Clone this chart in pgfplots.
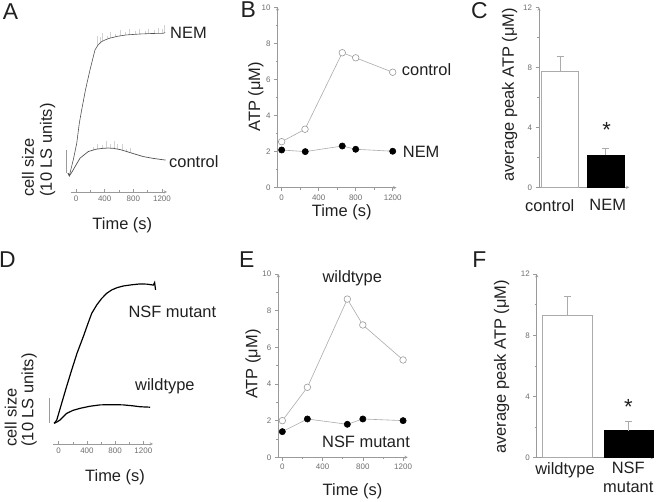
\documentclass[border=0pt]{standalone}
\usepackage{pgfplots}
\pgfplotsset{compat=1.18}
\usepackage{fontspec}
\setmainfont{Liberation Sans}
\newcommand\lab{\fontsize{16.5}{19}\selectfont}
\newcommand\tck{\fontsize{8}{9}\selectfont}
\newcommand\letr{\fontsize{23}{26}\selectfont}
\definecolor{axgray}{HTML}{9A9A9A}
\definecolor{tkgray}{HTML}{6E6E6E}
\definecolor{lngray}{HTML}{ABABAB}
\definecolor{spgray}{HTML}{D2D2D2}
\definecolor{trgray}{HTML}{505050}
\definecolor{txt}{HTML}{202020}
\pgfplotsset{
  base/.style={scale only axis, anchor=south west, clip=false,
    /pgf/number format/assume math mode=true,
    /pgf/number format/set thousands separator={},
    tick label style={font=\tck, text=tkgray},
    axis line style={-, axgray, line width=0.5pt},
    tick style={axgray, line width=0.45pt}},
  trace/.style={base, axis x line=bottom, axis y line=none, ytick=\empty,
    xtick={0,400,800,1200}, minor xtick={200,600,1000},
    tick align=inside, major tick length=2.5bp, minor tick length=1.5bp},
  atp/.style={base, axis lines=left, ymin=0, ymax=10,
    ytick={0,2,...,10}, minor ytick={1,3,...,9},
    xtick={0,400,800,1200}, minor xtick={200,600,1000},
    tick align=outside, major tick length=3.5bp, minor tick length=2bp},
  bars/.style={base, axis lines=left, ymin=0, ymax=12,
    ytick={0,4,8,12}, minor ytick={2,6,10},
    tick align=outside, major tick length=3.5bp, minor tick length=2bp,
    x tick style={draw=none},
    xticklabel style={font=\lab, text=txt, anchor=north, inner sep=0pt, align=center}},
  openm/.style={lngray, line width=0.6pt, mark=*, mark size=3.3bp,
    mark options={fill=white, draw=axgray, line width=0.6pt}},
  fillm/.style={lngray, line width=0.6pt, mark=*, mark size=3.1bp,
    mark options={fill=black, draw=black}},
  spk/.style={spgray, line width=0.25pt, -, forget plot,
    quiver={u=0, v=\thisrow{e}}},
}
\begin{document}
\begin{tikzpicture}[x=1bp,y=1bp]
\path[use as bounding box] (0,0) rectangle (660,502);

% ---------------- A ----------------
\begin{axis}[trace, at={(71bp,310bp)}, width=96bp, height=165.6bp,
  xmin=-70, xmax=1270, ymin=-7, ymax=65]
\addplot[spk] table {
t y e
290 56.3 4.5
335 57.9 2.5
370 58.5 3.5
430 59.4 1.5
475 59.9 2.5
540 60.3 1.5
610 60.8 2.5
690 61.2 1.2
735 61.3 2.5
820 61.5 1.5
880 61.6 2.2
965 61.7 1.2
1010 61.8 2
1090 61.9 1.5
1140 61.95 2.5
1200 62.0 2
1235 62.2 3.5
};
\addplot[spk] table {
t y e
240 11.2 1.2
300 11.7 2.2
365 12.0 1.5
420 12.1 3
470 12.1 1.8
530 12.0 3
575 11.8 2
640 11.3 2.5
700 10.7 1.2
760 10.2 1.8
};
\addplot[trgray, line width=0.6pt] coordinates {
(-112,1.2) (-93,0) (-70,3) (-38,7.0) (10,14.2) (46,22.9) (79,28.7) (132,37.4)
(195,46.1) (265,54.8) (310,57.0) (358,58.4) (420,59.3) (474,59.9) (580,60.7)
(707,61.3) (900,61.7) (1050,61.9) (1213,62.0) (1245,62.3)};
\addplot[trgray, line width=0.7pt] coordinates {
(-112,1.2) (-93,0) (-60,1.5) (-14,4.0) (56,7.7) (172,10.6) (280,11.6) (381,12.0)
(450,12.1) (520,12.0) (620,11.4) (707,10.6) (820,9.5) (939,8.4) (1080,7.6)
(1218,7.0) (1250,6.9)};
\addplot[axgray, line width=0.6pt] coordinates {(-140,1.4) (-140,11.4)};
\end{axis}

% ---------------- B ----------------
\begin{axis}[atp, at={(277.5bp,314.3bp)}, width=118.9bp, height=180.4bp,
  xmin=-45, xmax=1240]
\addplot[openm] coordinates {(0,2.55) (252,3.24) (655,7.48) (800,7.2) (1200,6.4)};
\addplot[fillm] coordinates {(0,2.09) (255,2.0) (655,2.31) (800,2.13) (1200,2.02)};
\end{axis}

% ---------------- C ----------------
\begin{axis}[bars, at={(539bp,314.7bp)}, width=90.3bp, height=180bp,
  xmin=0, xmax=90.3, xtick={10.7,68.7}, xticklabels={control,NEM},
  xticklabel style={yshift=-8.7bp}]
\addplot[ybar, bar width=37bp, bar shift=0pt, fill=white, draw=lngray, line width=0.6pt,
  error bars/.cd, y dir=plus, y explicit,
  error bar style={lngray, line width=0.6pt},
  error mark options={rotate=90, mark size=3.5bp, lngray, line width=0.6pt}]
  coordinates {(21,7.75) +- (0,0.95)};
\addplot[ybar, bar width=37bp, bar shift=0pt, fill=black, draw=black, line width=0.6pt,
  error bars/.cd, y dir=plus, y explicit,
  error bar style={lngray, line width=0.6pt},
  error mark options={rotate=90, mark size=3.5bp, lngray, line width=0.6pt}]
  coordinates {(66.3,2.15) +- (0,0.45)};
\end{axis}

% ---------------- D ----------------
\begin{axis}[trace, at={(53bp,58bp)}, width=100bp, height=170.2bp,
  xmin=-81, xmax=1337, ymin=-9, ymax=65]
\addplot[black, line width=1.2pt] coordinates {
(-62,0) (-28,1.4) (40,8.5) (110,15.8) (184,23.2) (260,30.5) (349,37.7) (410,43.0)
(468,47.8) (540,51.5) (610,54.3) (680,56.5) (752,58.0) (830,59.0) (916,59.7)
(1030,60.2) (1153,60.6) (1250,60.5) (1342,60.1) (1360,61.2) (1373,58.0)};
\addplot[black, line width=1.2pt] coordinates {
(-67,0) (-30,0.5) (18,1.4) (113,4.3) (200,5.6) (302,6.5) (440,7.4) (586,8.0)
(750,8.1) (916,8.0) (1050,7.6) (1153,7.2) (1295,7.0)};
\addplot[axgray, line width=0.6pt] coordinates {(-138,0.3) (-138,10.9)};
\end{axis}

% ---------------- E ----------------
\begin{axis}[atp, at={(278.3bp,44.7bp)}, width=129.4bp, height=183.3bp,
  xmin=-40, xmax=1246]
\addplot[openm] coordinates {(0,2.0) (249,3.82) (646,8.63) (800,7.22) (1200,5.31)};
\addplot[fillm] coordinates {(0,1.4) (249,2.09) (646,1.8) (800,2.09) (1200,2.0)};
\end{axis}

% ---------------- F ----------------
\begin{axis}[bars, at={(536.7bp,44.3bp)}, width=117.3bp, height=183.6bp,
  xmin=0, xmax=117.3, xtick={28.3,91.6}, xticklabels={wildtype,{NSF\\mutant}},
  xticklabel style={yshift=-1bp}]
\addplot[ybar, bar width=50bp, bar shift=0pt, fill=white, draw=lngray, line width=0.6pt,
  error bars/.cd, y dir=plus, y explicit,
  error bar style={lngray, line width=0.6pt},
  error mark options={rotate=90, mark size=3.5bp, lngray, line width=0.6pt}]
  coordinates {(30.6,9.33) +- (0,1.19)};
\addplot[ybar, bar width=49.3bp, bar shift=0pt, fill=black, draw=black, line width=0.6pt,
  error bars/.cd, y dir=plus, y explicit,
  error bar style={lngray, line width=0.6pt},
  error mark options={rotate=90, mark size=3.5bp, lngray, line width=0.6pt}]
  coordinates {(92,1.76) +- (0,0.59)};
\end{axis}

% ---------------- texts ----------------
\begin{scope}[every node/.style={font=\lab, text=txt, inner sep=0pt}]
\node[font=\letr] at (10.5,490.3) {A};
\node[font=\letr] at (248.3,492.7) {B};
\node[font=\letr] at (479.3,491.3) {C};
\node[font=\letr] at (7.5,242) {D};
\node[font=\letr] at (246.7,242) {E};
\node[font=\letr] at (479.3,242.7) {F};
% A
\node[anchor=west] at (170,469.3) {NEM};
\node[anchor=west] at (169,340.3) {control};
\node[rotate=90, anchor=west] at (28,305.3) {cell size};
\node[rotate=90, anchor=west] at (47.5,305.3) {(10 LS units)};
\node at (122.3,277) {Time (s)};
% B
\node[anchor=west] at (401.7,432) {control};
\node[anchor=west] at (402.7,350.3) {NEM};
\node[rotate=90] at (255.8,405.3) {ATP (μM)};
\node at (341.7,289.5) {Time (s)};
% C
\node[rotate=90] at (509.5,407) {average peak ATP (μM)};
\node[anchor=base, font=\fontsize{22}{24}\selectfont] at (606.7,364.2) {*};
% D
\node[anchor=west] at (128.3,190.3) {NSF mutant};
\node[anchor=west] at (135,115.3) {wildtype};
\node[rotate=90, anchor=west] at (10.8,55.3) {cell size};
\node[rotate=90, anchor=west] at (29.2,55.3) {(10 LS units)};
\node at (115,24.5) {Time (s)};
% E
\node at (352.3,223.7) {wildtype};
\node at (366,59.7) {NSF mutant};
\node[rotate=90] at (253,137.8) {ATP (μM)};
\node at (352.5,10.3) {Time (s)};
% F
\node[rotate=90] at (501.5,135.3) {average peak ATP (μM)};
\node[anchor=base, font=\fontsize{22}{24}\selectfont] at (628.3,87.5) {*};
\end{scope}
\end{tikzpicture}
\end{document}
